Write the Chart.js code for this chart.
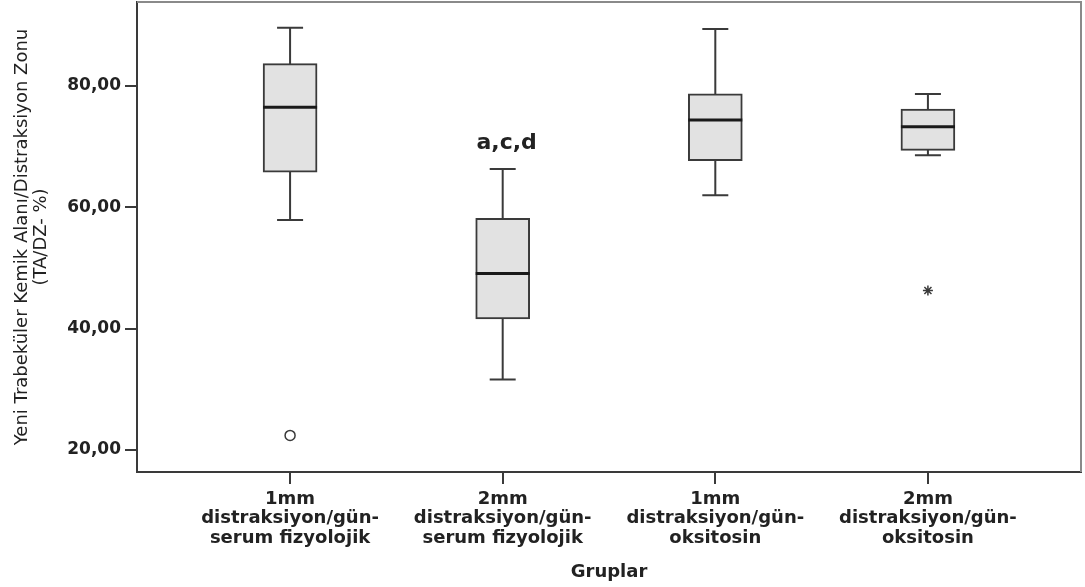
<!DOCTYPE html>
<html>
<head>
<meta charset="utf-8">
<script src="https://cdn.jsdelivr.net/npm/chart.js@4/dist/chart.umd.min.js"></script>
<style>
  html, body { margin: 0; padding: 0; background: #fff; }
  #wrap { width: 1085px; height: 587px; }
</style>
</head>
<body>
<div id="wrap"><canvas id="boxChart"></canvas></div>
<script>
// Group labels (one line per array entry)
const groups = [
    ['1mm', 'distraksiyon/gün-', 'serum fizyolojik'],
    ['2mm', 'distraksiyon/gün-', 'serum fizyolojik'],
    ['1mm', 'distraksiyon/gün-', 'oksitosin'],
    ['2mm', 'distraksiyon/gün-', 'oksitosin']
];

// Box plot statistics
const whiskerLow  = [57.9, 31.6, 62.0, 68.6];
const q1          = [65.8, 41.6, 67.7, 69.4];
const median      = [76.5, 49.1, 74.4, 73.3];
const q3          = [83.7, 58.2, 78.7, 76.2];
const whiskerHigh = [89.6, 66.3, 89.4, 78.7];

// Outliers: circle = mild, star = extreme
const circleOutliers = [{ x: 1, y: 22.4 }];
const starOutliers = [{ x: 4, y: 46.3 }];

// Significance note above group 2
const noteText = 'a,c,d';
const noteGroup = 2;
const noteValue = 70.6;

const yTicks = [20, 40, 60, 80];

const darkLine = '#3a3a3a';
const boxFill = '#e2e2e2';

// Whiskers, medians, note and frame
const boxPlotPlugin = {
    id: 'boxPlot',
    beforeDatasetsDraw(chart) {
        const ctx = chart.ctx;
        const xs = chart.scales.x;
        const ys = chart.scales.y;
        ctx.save();
        ctx.strokeStyle = darkLine;
        ctx.lineWidth = 2;
        for (let i = 0; i < groups.length; i++) {
            const cx = xs.getPixelForValue(i + 1);
            const lo = ys.getPixelForValue(whiskerLow[i]);
            const hi = ys.getPixelForValue(whiskerHigh[i]);
            ctx.beginPath();
            ctx.moveTo(cx, lo);
            ctx.lineTo(cx, hi);
            ctx.moveTo(cx - 13, lo);
            ctx.lineTo(cx + 13, lo);
            ctx.moveTo(cx - 13, hi);
            ctx.lineTo(cx + 13, hi);
            ctx.stroke();
        }
        ctx.restore();
    },
    afterDatasetsDraw(chart) {
        const ctx = chart.ctx;
        const xs = chart.scales.x;
        const ys = chart.scales.y;
        ctx.save();
        ctx.strokeStyle = '#1a1a1a';
        ctx.lineWidth = 3;
        for (let i = 0; i < groups.length; i++) {
            const cx = xs.getPixelForValue(i + 1);
            const my = ys.getPixelForValue(median[i]);
            ctx.beginPath();
            ctx.moveTo(cx - 27, my);
            ctx.lineTo(cx + 27, my);
            ctx.stroke();
        }
        ctx.fillStyle = '#222';
        ctx.font = 'bold 22px "DejaVu Sans"';
        ctx.textAlign = 'center';
        ctx.textBaseline = 'middle';
        ctx.fillText(noteText, xs.getPixelForValue(noteGroup) + 4, ys.getPixelForValue(noteValue));

        const a = chart.chartArea;
        ctx.strokeStyle = '#8a8a8a';
        ctx.lineWidth = 2;
        ctx.beginPath();
        ctx.moveTo(a.left, a.top);
        ctx.lineTo(a.right, a.top);
        ctx.lineTo(a.right, a.bottom);
        ctx.stroke();
        ctx.restore();
    }
};

const ctx = document.getElementById('boxChart').getContext('2d');

let boxChart = new Chart(ctx, {
    type: 'bar',
    data: {
        datasets: [
            {
                label: 'box',
                data: q1.map((v, i) => ({ x: i + 1, y: [v, q3[i]] })),
                backgroundColor: boxFill,
                borderColor: darkLine,
                borderWidth: 2,
                borderSkipped: false,
                barThickness: 54
            },
            {
                type: 'line',
                label: 'outlier',
                data: circleOutliers,
                showLine: false,
                pointStyle: 'circle',
                pointRadius: 5,
                pointBorderWidth: 1.5,
                pointBackgroundColor: '#fff',
                pointBorderColor: darkLine
            },
            {
                type: 'line',
                label: 'extreme',
                data: starOutliers,
                showLine: false,
                pointStyle: 'star',
                pointRadius: 5,
                pointBorderWidth: 1.5,
                pointBorderColor: darkLine
            }
        ]
    },
    options: {
        responsive: true,
        maintainAspectRatio: false,
        animation: false,
        layout: { autoPadding: false, padding: { top: 2, right: 4, left: 0, bottom: 0 } },
        plugins: {
            legend: { display: false },
            tooltip: { enabled: false }
        },
        scales: {
            x: {
                type: 'linear',
                min: 0.28,
                max: 4.72,
                offset: false,
                afterBuildTicks(scale) {
                    scale.ticks = groups.map((g, i) => ({ value: i + 1 }));
                },
                afterFit(scale) {
                    scale.height = 115;
                    scale.paddingLeft = 0;
                    scale.paddingRight = 0;
                },
                ticks: {
                    color: '#222',
                    font: { family: 'DejaVu Sans', size: 18, weight: 'bold', lineHeight: 1.1 },
                    padding: 5,
                    maxRotation: 0,
                    autoSkip: false,
                    callback: (v) => groups[v - 1] || ''
                },
                grid: { offset: false, drawOnChartArea: false, drawTicks: true, tickLength: 12, color: darkLine, lineWidth: 2 },
                border: { color: darkLine, width: 2 },
                title: {
                    display: true,
                    text: 'Gruplar',
                    color: '#222',
                    font: { family: 'DejaVu Sans', size: 18, weight: 'bold' },
                    padding: { top: 0, bottom: 4 }
                }
            },
            y: {
                min: 16.37,
                max: 93.85,
                afterBuildTicks(scale) {
                    scale.ticks = yTicks.map(v => ({ value: v }));
                },
                afterFit(scale) {
                    scale.width = 137;
                    scale.paddingTop = 0;
                    scale.paddingBottom = 0;
                },
                ticks: {
                    color: '#222',
                    font: { family: 'DejaVu Sans', size: 17, weight: 'bold' },
                    padding: 4,
                    callback: (v) => v.toFixed(2).replace('.', ',')
                },
                grid: { drawOnChartArea: false, drawTicks: true, tickLength: 12, color: darkLine, lineWidth: 2 },
                border: { color: darkLine, width: 2 },
                title: {
                    display: true,
                    text: ['Yeni Trabeküler Kemik Alanı/Distraksiyon Zonu', '(TA/DZ- %)'],
                    color: '#222',
                    font: { family: 'DejaVu Sans', size: 18, lineHeight: 1.1 },
                    padding: { top: 12, bottom: 0 }
                }
            }
        }
    },
    plugins: [boxPlotPlugin]
});
</script>
</body>
</html>
